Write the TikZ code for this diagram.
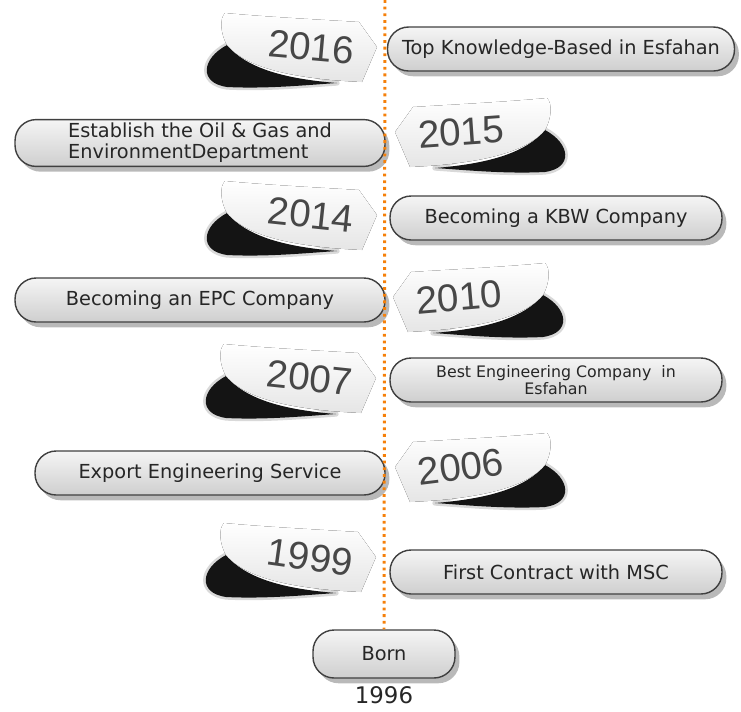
\documentclass[tikz,border=0pt]{standalone}
\usepackage{fontspec}
\usepackage{tikz}
\usetikzlibrary{shadows}

\newfontfamily\boxfont{DejaVu Sans}
\newfontfamily\yearfont{Liberation Sans}

\tikzset{
  event/.style={draw=gray!50!black, line width=0.8pt, rounded corners=12pt,
    top color=gray!8, bottom color=gray!38, minimum height=0.88cm,
    text=black!85, align=center, inner sep=2pt,
    font=\boxfont\fontsize{11}{12}\selectfont,
    drop shadow={shadow xshift=2.5pt, shadow yshift=-3pt, opacity=0.55}},
  year/.style={font=\yearfont\fontsize{22}{22}\selectfont, text=black!72},
  tagbody/.style={top color=white, bottom color=gray!20},
  timeline/.style={draw=orange!85!brown, line width=1.7pt, dash pattern=on 1.6pt off 2.2pt},
}

% year tag, tip at #1, name #2, year #3, angle #4, side #5 (1 left, -1 right)
\newcommand\yeartag[5]{%
  \begin{scope}[shift={(#1)}, xscale=#5]
    \draw[black, opacity=0.15, line width=3pt, line join=round]
      (-150,-2) .. controls (-176,12) and (-178,36) .. (-150,40)
      .. controls (-110,42) and (-70,38) .. (-40,36) -- cycle;
    \fill[black!92]
      (-150,-2) .. controls (-176,12) and (-178,36) .. (-150,40)
      .. controls (-110,42) and (-70,38) .. (-40,36)
      .. controls (-90,32) and (-130,22) .. (-150,-2) -- cycle;
    \fill[tagbody]
      (-152,-34) .. controls (-110,-30) and (-50,-27) .. (-18,-25) -- (0,0)
      -- (-15,35) .. controls (-80,32) and (-130,22) .. (-150,-2)
      .. controls (-156,-12) and (-158,-28) .. (-152,-34) -- cycle;
    \node[year, rotate=#4] (#2) at (-66,0) {#3};
  \end{scope}}

\begin{document}
\begin{tikzpicture}[x=0.02cm, y=-0.02cm]
	\useasboundingbox (0,0) rectangle (741,711);

	% year tags
	\yeartag{377,47}{y2016}{2016}{-5}{1}
	\yeartag{395,132}{y2015}{2015}{4}{-1}
	\yeartag{377,215}{y2014}{2014}{-6}{1}
	\yeartag{393,297}{y2010}{2010}{5}{-1}
	\yeartag{376,378}{y2007}{2007}{-6}{1}
	\yeartag{395,467}{y2006}{2006}{7}{-1}
	\yeartag{376,557}{y1999}{1999}{-8}{1}

	% events
	\node[event, minimum width=6.94cm] (knowledge) at (561,49) {Top Knowledge-Based in Esfahan};
	\node[event, minimum width=7.4cm, align=left] (oilgas) at (200,143) {Establish the Oil \& Gas and\\EnvironmentDepartment};
	\node[event, minimum width=6.64cm] (kbw) at (556,218) {Becoming a KBW Company};
	\node[event, minimum width=7.4cm] (epc) at (200,300) {Becoming an EPC Company};
	\node[event, minimum width=6.64cm, font=\boxfont\fontsize{9}{10}\selectfont] (best) at (556,380) {Best Engineering Company\ \ in\\Esfahan};
	\node[event, minimum width=7.0cm] (export) at (210,473) {Export Engineering Service};
	\node[event, minimum width=6.64cm] (msc) at (556,572) {First Contract with MSC};
	\node[event, minimum width=2.84cm, minimum height=0.96cm] (born) at (384,654) {Born};
	\node[font=\boxfont\fontsize{13}{15}\selectfont, text=black!85] (y1996) at (384,695) {1996};

	% timeline
	\coordinate (start) at (385,0);
	\draw[timeline] (start) -- (born.north);
\end{tikzpicture}
\end{document}
